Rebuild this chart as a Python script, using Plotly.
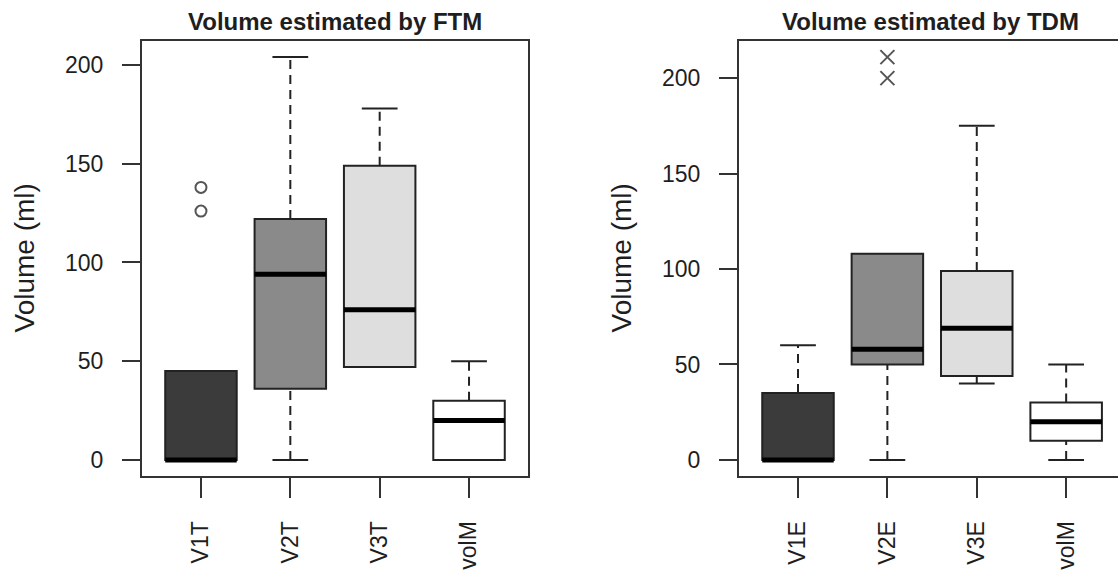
import plotly.graph_objects as go

# ---------------- data ----------------
ftm_cats = ["V1T", "V2T", "V3T", "volM"]
ftm_lower = [0, 0, 47, 0]
ftm_q1 = [0, 36, 47, 0]
ftm_median = [0, 94, 76, 20]
ftm_q3 = [45, 122, 149, 30]
ftm_upper = [45, 204, 178, 50]
ftm_out_cat = ["V1T", "V1T"]
ftm_out_val = [126, 138]

tdm_cats = ["V1E", "V2E", "V3E", "volM"]
tdm_lower = [0, 0, 40, 0]
tdm_q1 = [0, 50, 44, 10]
tdm_median = [0, 58, 69, 20]
tdm_q3 = [35, 108, 99, 30]
tdm_upper = [60, 108, 175, 50]
tdm_out_cat = ["V2E", "V2E"]
tdm_out_val = [200, 211]

y_ticks = [0, 50, 100, 150, 200]
fills = ["#3b3b3b", "#8a8a8a", "#dedede", "#ffffff"]

FONT = "Liberation Sans, Arial, sans-serif"
INK = "#1e1e1e"
FRAME = "#333333"

fig = go.Figure()


def add_panel(cats, lower, q1, med, q3, upper, out_cat, out_val, xa, ya, symbol, msize):
    pos = list(range(1, len(cats) + 1))
    for i, p in enumerate(pos):
        fig.add_trace(go.Box(
            x=[p], q1=[q1[i]], median=[med[i]], q3=[q3[i]],
            lowerfence=[q1[i]], upperfence=[q3[i]],
            width=0.8, whiskerwidth=0,
            fillcolor=fills[i], line=dict(color="#222222", width=2),
            boxpoints=False, showlegend=False, hoverinfo="skip",
            xaxis=xa, yaxis=ya,
        ))
    # whiskers (dashed)
    wx, wy = [], []
    for i, p in enumerate(pos):
        if upper[i] > q3[i]:
            wx += [p, p, None]
            wy += [q3[i], upper[i], None]
        if lower[i] < q1[i]:
            wx += [p, p, None]
            wy += [lower[i], q1[i], None]
    fig.add_trace(go.Scatter(x=wx, y=wy, mode="lines",
                             line=dict(color="#222222", width=2, dash="9px,6px"),
                             showlegend=False, hoverinfo="skip", xaxis=xa, yaxis=ya))
    # caps
    cx, cy = [], []
    for i, p in enumerate(pos):
        if upper[i] > q3[i]:
            cx += [p - 0.2, p + 0.2, None]
            cy += [upper[i], upper[i], None]
        if lower[i] < q1[i]:
            cx += [p - 0.2, p + 0.2, None]
            cy += [lower[i], lower[i], None]
    fig.add_trace(go.Scatter(x=cx, y=cy, mode="lines",
                             line=dict(color="#222222", width=2),
                             showlegend=False, hoverinfo="skip", xaxis=xa, yaxis=ya))
    # medians (thick)
    mx, my = [], []
    for i, p in enumerate(pos):
        mx += [p - 0.4, p + 0.4, None]
        my += [med[i], med[i], None]
    fig.add_trace(go.Scatter(x=mx, y=my, mode="lines",
                             line=dict(color="#000000", width=5),
                             showlegend=False, hoverinfo="skip", xaxis=xa, yaxis=ya))
    # outliers
    ox = [pos[cats.index(c)] for c in out_cat]
    fig.add_trace(go.Scatter(x=ox, y=out_val, mode="markers",
                             marker=dict(symbol=symbol, size=msize, color="#555555",
                                         line=dict(color="#555555", width=2)),
                             showlegend=False, hoverinfo="skip", xaxis=xa, yaxis=ya))
    allv = lower + upper + out_val
    lo, hi = min(allv), max(allv)
    pad = 0.04 * (hi - lo)
    return pos, [lo - pad, hi + pad]


pos1, yr1 = add_panel(ftm_cats, ftm_lower, ftm_q1, ftm_median, ftm_q3, ftm_upper,
                      ftm_out_cat, ftm_out_val, "x", "y", "circle-open", 11)
pos2, yr2 = add_panel(tdm_cats, tdm_lower, tdm_q1, tdm_median, tdm_q3, tdm_upper,
                      tdm_out_cat, tdm_out_val, "x2", "y2", "x-thin-open", 14)

W, H = 1118, 573
axis_common = dict(showgrid=False, zeroline=False, showline=True, linecolor=FRAME,
                   linewidth=2, ticks="outside", tickcolor=FRAME, tickwidth=2,
                   automargin=False)

fig.update_layout(
    width=W, height=H,
    margin=dict(l=0, r=0, t=41, b=97, autoexpand=False),
    paper_bgcolor="white", plot_bgcolor="white",
    font=dict(family=FONT, color=INK),
    xaxis=dict(domain=[142 / W, 528 / W], range=[0.34, 4.66], tickvals=pos1,
               ticktext=ftm_cats, tickangle=-90, ticklen=20, mirror=True,
               tickfont=dict(size=23, family=FONT, color=INK), ticklabelstandoff=14,
               anchor="y", **axis_common),
    yaxis=dict(domain=[0, 1], range=yr1, tickvals=y_ticks, ticklen=18, mirror=True,
               tickfont=dict(size=23, family=FONT, color=INK), ticklabelstandoff=14,
               anchor="x", **axis_common),
    xaxis2=dict(domain=[739 / W, 1.0], range=[0.34, 4.58], tickvals=pos2,
                ticktext=tdm_cats, tickangle=-90, ticklen=20, mirror=True,
                tickfont=dict(size=23, family=FONT, color=INK), ticklabelstandoff=14,
                anchor="y2", **axis_common),
    yaxis2=dict(domain=[0, 1], range=yr2, tickvals=y_ticks, ticklen=18, mirror=False,
                tickfont=dict(size=23, family=FONT, color=INK), ticklabelstandoff=14,
                anchor="x2", **axis_common),
)

plot_h = H - 41 - 97
title_y = 1 + (41 - 21) / plot_h
fig.add_annotation(text="<b>Volume estimated by FTM</b>", xref="paper", yref="paper",
                   x=335 / W, y=title_y, xanchor="center", yanchor="middle",
                   showarrow=False, font=dict(size=24, family=FONT, color=INK))
fig.add_annotation(text="<b>Volume estimated by TDM</b>", xref="paper", yref="paper",
                   x=930 / W, y=title_y, xanchor="center", yanchor="middle",
                   showarrow=False, font=dict(size=24, family=FONT, color=INK))
for xc in (24, 621):
    fig.add_annotation(text="Volume (ml)", xref="paper", yref="paper",
                       x=xc / W, y=0.5, xanchor="center", yanchor="middle", textangle=-90,
                       showarrow=False, font=dict(size=28, family=FONT, color=INK))

fig.write_html("out.html",
               config={"displayModeBar": False},
               post_script="document.body.style.margin='0';document.body.style.overflow='hidden';")
